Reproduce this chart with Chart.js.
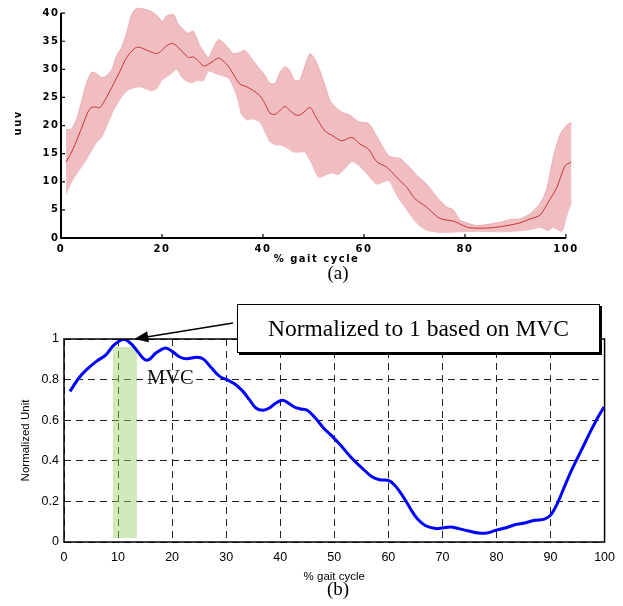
<!DOCTYPE html>
<html>
<head>
<meta charset="utf-8">
<script src="https://cdn.jsdelivr.net/npm/chart.js@4.4.1/dist/chart.umd.min.js"></script>
<style>
html, body { margin: 0; padding: 0; background: #fff; }
#wrap { position: relative; width: 623px; height: 606px; overflow: hidden; }
canvas { position: absolute; left: 0; }
#ca { top: 0; }
#cb { top: 290px; }
.cap { position: absolute; font-family: "Liberation Serif", serif; font-size: 19px; color: #000; transform: translate(-50%, -50%); white-space: nowrap; }
#note { position: absolute; left: 237px; top: 304px; width: 361px; height: 47px; border: 1.5px solid #000; box-shadow: 2px 2px 0 #000; background: #fff;
  font-family: "Liberation Serif", serif; font-size: 23.5px; line-height: 47px; text-align: center; color: #000; }
#mvc { position: absolute; left: 147px; top: 366px; font-family: "Liberation Serif", serif; font-size: 20.5px; color: #111; }
</style>
</head>
<body>
<div id="wrap">
  <canvas id="ca" width="623" height="290"></canvas>
  <canvas id="cb" width="623" height="316"></canvas>
  <div class="cap" style="left:338px; top:273px;">(a)</div>
  <div class="cap" style="left:338px; top:589px;">(b)</div>
  <div id="mvc">MVC</div>
  <div id="note">Normalized to 1 based on MVC</div>
</div>
<script>
// (a) EMG envelope: mean and +/- band
const meanX = [1,2.1,3.4,4.4,5.7,6.7,7.7,9,10.4,11.7,13,14.7,15.6,17.3,18.9,19.9,20.9,22.1,23.2,24.5,25.2,26.2,27.2,28.2,29.2,30.2,31.2,32.1,33.1,34.1,35.4,36.8,38.1,39.4,40.4,41.4,42.4,43.4,44.4,45.3,46.7,47.7,49.3,50.3,52.3,53.6,55.6,57.6,59.2,60.9,62.5,64.5,66.8,68.5,70.1,72.4,75,77.7,79.7,81,85,88.3,90.9,92.9,94.9,96.5,98.2,99.8,101];
const meanY = [13.5,15.3,18,20.3,23,23.3,23.2,25,27.4,29.7,32.1,33.8,33.9,33.3,32.8,33.3,34.2,34.6,33.9,32.7,32.1,32.2,31.5,30.6,30.9,31.5,32,31.5,30.6,29.2,27.4,26.9,26.2,25.3,23.9,22.2,22,22.7,23.4,22.7,21.8,22.1,23.2,21.8,19,18.3,17.3,17.9,16.7,15.8,13.6,12.6,10.5,9,7,5.5,3.5,3,2.2,1.8,1.8,2.2,2.7,3.4,4.1,6.4,9,12.8,13.5];
const upperX = [1,2.1,3.1,4.1,5.1,6.1,7.1,8.1,9.1,10.1,11,12,13,14,15,16,17.3,18.3,19.3,20.1,20.9,22.3,23.2,24.5,25.2,26.2,27.5,29.2,30.2,31.2,32.1,33.1,34.1,35.4,36.4,38.1,39.4,40.4,41.4,42.4,43.4,44.4,45.3,46.3,47.3,48.3,49.3,50.3,51.3,52.3,53.3,54.3,55.6,57.3,58.9,60.9,62.9,64.9,67.2,68.8,70.5,72.4,74.4,76.4,77.7,79,80.3,82.3,84.3,87,89,90.9,92.9,94.9,96.2,97.5,98.8,100.1,101.1];
const upperY = [19.3,19.4,21.2,24.4,27.7,29.5,29.2,28.5,28.9,30,32.4,33.9,36.5,39.8,40.9,40.8,40.5,40.1,39.3,38.5,39.5,39.7,38.1,36.8,36.4,36.8,34.2,32.1,33.9,35.3,34.8,33.8,32.8,33,33.4,31.5,30,28.9,27.5,27.5,29.5,30.5,29.8,28,28.1,30.6,32.8,31.8,29.7,27.1,24.4,23.3,22.4,21.8,20.7,20.4,17.5,14.6,14.1,12.8,11.1,9.6,7.3,5.5,5,3.2,2.7,2.2,2.4,2.8,3.3,3.4,4.3,6.2,8.7,14.4,18.3,20,20.6];
const lowerX = [1,2.1,3.4,4.7,5.7,7.1,8.1,9.1,10.4,11.7,13,14.3,15.6,16.9,17.9,18.9,19.9,20.9,21.9,22.9,23.9,24.9,25.9,26.9,28.2,29.2,30.5,31.8,33.1,34.1,35.1,35.7,36.8,38.1,39.4,40.4,41.4,42.4,43.7,45,46,47.3,48.3,49.6,50.9,51.6,53.6,54.9,56.2,57.6,58.9,60.6,62.5,64.9,66.5,68.5,70.5,72.4,75,79,83,87,90.9,93.6,94.9,96.5,97.5,99.2,100.1,101.1];
const lowerY = [7.8,10,11.8,13.5,15,17.1,18,20,22.7,24.7,26.2,26.7,26.9,26.5,26.2,26.5,28,28.7,29.3,30,28.6,27.9,27.6,28,28,29.7,29.3,28.9,28.5,26.9,24.4,22.1,21,21.2,20.6,18.9,17.1,16.6,16.5,15.9,15.3,15.3,15.3,13.3,10.9,10.9,11.6,11.3,12.3,13.6,13,11.4,9.6,10.2,7.6,5,2.6,1.4,1,1.1,1.2,1.1,1.3,1.6,1.9,1.3,1.9,1.2,3.8,6.5];
const aTicksX = [0,20,40,60,80,100];
const aTicksY = [0,5,10,15,20,25,30,35,40];

// (b) normalized curve
const normX = [1.1,2.9,4.5,6,7.8,9,10.1,11.2,12.4,13.6,14.8,15.7,17,18.8,20,21.5,22.7,24.6,25.8,27.3,28.8,30.4,31.6,33.1,34.3,35.5,36.8,38,39.2,40.4,41.3,42.6,43.8,45,46.5,48,49.3,51.1,53.2,55.1,56.9,58.4,59.9,61.1,62.7,64.2,65.4,66.9,68.8,70,71.5,73,74.9,76.7,78.2,79.8,81.6,83.4,85.2,87.1,88.9,90.1,91.3,92.6,93.8,95,96.2,97.4,98.7,99.9];
const normY = [0.742,0.813,0.857,0.89,0.923,0.964,0.988,0.998,0.977,0.939,0.901,0.898,0.931,0.956,0.939,0.91,0.903,0.91,0.901,0.857,0.816,0.796,0.778,0.742,0.701,0.66,0.649,0.66,0.685,0.698,0.688,0.665,0.655,0.649,0.611,0.562,0.529,0.479,0.414,0.365,0.323,0.307,0.304,0.282,0.225,0.159,0.113,0.08,0.066,0.069,0.074,0.066,0.054,0.044,0.044,0.057,0.069,0.085,0.094,0.107,0.113,0.135,0.192,0.274,0.348,0.414,0.479,0.545,0.611,0.665];
const mvcRange = [9, 13.5];
const mvcLevels = [0.02, 0.96];
const arrowTip = [13, 1.0];

function pts(xs, ys) { return xs.map((x, i) => ({ x: x, y: ys[i] })); }

const fontA = { family: 'DejaVu Sans', size: 10, weight: 'bold' };

// axis lines and inward tick marks in the style of the original plot
const axesA = {
  id: 'axesA',
  beforeDraw(chart) { chart.ctx.letterSpacing = '1.5px'; },
  afterDraw(chart) {
    const { ctx, scales: { x, y } } = chart;
    ctx.letterSpacing = '0px';
    const x0 = x.getPixelForValue(0), x1 = x.getPixelForValue(100);
    const y0 = y.getPixelForValue(0), y1 = y.getPixelForValue(40);
    ctx.save();
    ctx.strokeStyle = '#000';
    ctx.lineWidth = 2;
    ctx.beginPath();
    ctx.moveTo(x0, y1); ctx.lineTo(x0, y0); ctx.lineTo(x1, y0);
    ctx.stroke();
    ctx.lineWidth = 1.2;
    ctx.beginPath();
    aTicksX.forEach(v => { const p = x.getPixelForValue(v); ctx.moveTo(p, y0); ctx.lineTo(p, y0 - 4); });
    aTicksY.forEach(v => { const p = y.getPixelForValue(v); ctx.moveTo(x0, p); ctx.lineTo(x0 + 4, p); });
    ctx.stroke();
    ctx.restore();
  }
};

new Chart(document.getElementById('ca'), {
  type: 'line',
  data: {
    datasets: [
      { data: pts(meanX, meanY), borderColor: 'rgb(205,50,55)', borderWidth: 1, pointRadius: 0, tension: 0.3, fill: false },
      { data: pts(upperX, upperY), borderColor: 'rgba(228,150,155,0.8)', borderWidth: 0.8, pointRadius: 0, tension: 0.2, fill: '+1', backgroundColor: 'rgb(240,190,192)' },
      { data: pts(lowerX, lowerY), borderColor: 'rgba(228,150,155,0.8)', borderWidth: 0.8, pointRadius: 0, tension: 0.2, fill: false }
    ]
  },
  options: {
    responsive: false,
    animation: false,
    layout: { padding: { top: 6.35, right: 51, left: 0, bottom: 0 } },
    plugins: { legend: { display: false }, tooltip: { enabled: false } },
    scales: {
      x: {
        type: 'linear', min: 0, max: 101.2,
        afterFit(s) { s.height = 52; },
        afterBuildTicks(s) { s.ticks = aTicksX.map(v => ({ value: v })); },
        grid: { display: false, drawTicks: false }, border: { display: false },
        ticks: { color: '#000', padding: 5, font: fontA },
        title: { display: true, text: '% gait cycle', color: '#000', padding: { top: 0, bottom: 24.5 }, font: fontA }
      },
      y: {
        type: 'linear', min: 0, max: 41,
        afterFit(s) { s.width = 61; },
        afterBuildTicks(s) { s.ticks = aTicksY.map(v => ({ value: v })); },
        grid: { display: false, drawTicks: false }, border: { display: false },
        ticks: { color: '#000', padding: 1.5, font: fontA },
        title: { display: true, text: 'uuv', color: '#000', padding: { top: 12, bottom: 0 }, font: fontA }
      }
    }
  },
  plugins: [axesA]
});

// frame box and annotation arrow for (b)
const frameB = {
  id: 'frameB',
  afterDraw(chart) {
    const { ctx, chartArea: a, scales: { x, y } } = chart;
    ctx.save();
    ctx.strokeStyle = '#000';
    ctx.lineWidth = 1.5;
    ctx.strokeRect(a.left, a.top, a.right - a.left, a.bottom - a.top);
    const tx = x.getPixelForValue(arrowTip[0]), ty = y.getPixelForValue(arrowTip[1]);
    const sx = 233, sy = 33;
    const ang = Math.atan2(ty - sy, tx - sx);
    const len = 14, hw = 5.5;
    const bx = tx - len * Math.cos(ang), by = ty - len * Math.sin(ang);
    ctx.lineWidth = 1.6;
    ctx.beginPath(); ctx.moveTo(sx, sy); ctx.lineTo(bx, by); ctx.stroke();
    ctx.fillStyle = '#000';
    ctx.beginPath();
    ctx.moveTo(tx, ty);
    ctx.lineTo(bx + hw * Math.sin(ang), by - hw * Math.cos(ang));
    ctx.lineTo(bx - hw * Math.sin(ang), by + hw * Math.cos(ang));
    ctx.closePath(); ctx.fill();
    ctx.restore();
  }
};

const fontB = { family: 'Liberation Sans', size: 12.5 };

new Chart(document.getElementById('cb'), {
  type: 'line',
  data: {
    datasets: [
      { data: pts(normX, normY), borderColor: 'rgb(0,0,255)', borderWidth: 3, pointRadius: 0, tension: 0.35, fill: false },
      { data: pts(mvcRange, [mvcLevels[1], mvcLevels[1]]), borderWidth: 0, pointRadius: 0, fill: { value: mvcLevels[0] }, backgroundColor: 'rgba(150,210,100,0.45)' }
    ]
  },
  options: {
    responsive: false,
    animation: false,
    layout: { padding: { top: 49, right: 13, left: 0, bottom: 0 } },
    plugins: { legend: { display: false }, tooltip: { enabled: false } },
    scales: {
      x: {
        type: 'linear', min: 0, max: 100,
        afterFit(s) { s.height = 64; },
        grid: { color: '#222', lineWidth: 1, drawTicks: false },
        border: { display: false, dash: [7, 5] },
        ticks: { stepSize: 10, color: '#000', padding: 8, font: fontB },
        title: { display: true, text: '% gait cycle', color: '#000', padding: { top: 0, bottom: 22 }, font: { family: 'Liberation Sans', size: 11.5 } }
      },
      y: {
        type: 'linear', min: 0, max: 1,
        afterFit(s) { s.width = 64; },
        grid: { color: '#222', lineWidth: 1, drawTicks: false },
        border: { display: false, dash: [7, 5] },
        ticks: { stepSize: 0.2, color: '#000', padding: 5, font: fontB, callback: v => String(+v.toFixed(2)) },
        title: { display: true, text: 'Normalized Unit', color: '#000', padding: { top: 19, bottom: 0 }, font: { family: 'Liberation Sans', size: 11.5 } }
      }
    }
  },
  plugins: [frameB]
});
</script>
</body>
</html>
